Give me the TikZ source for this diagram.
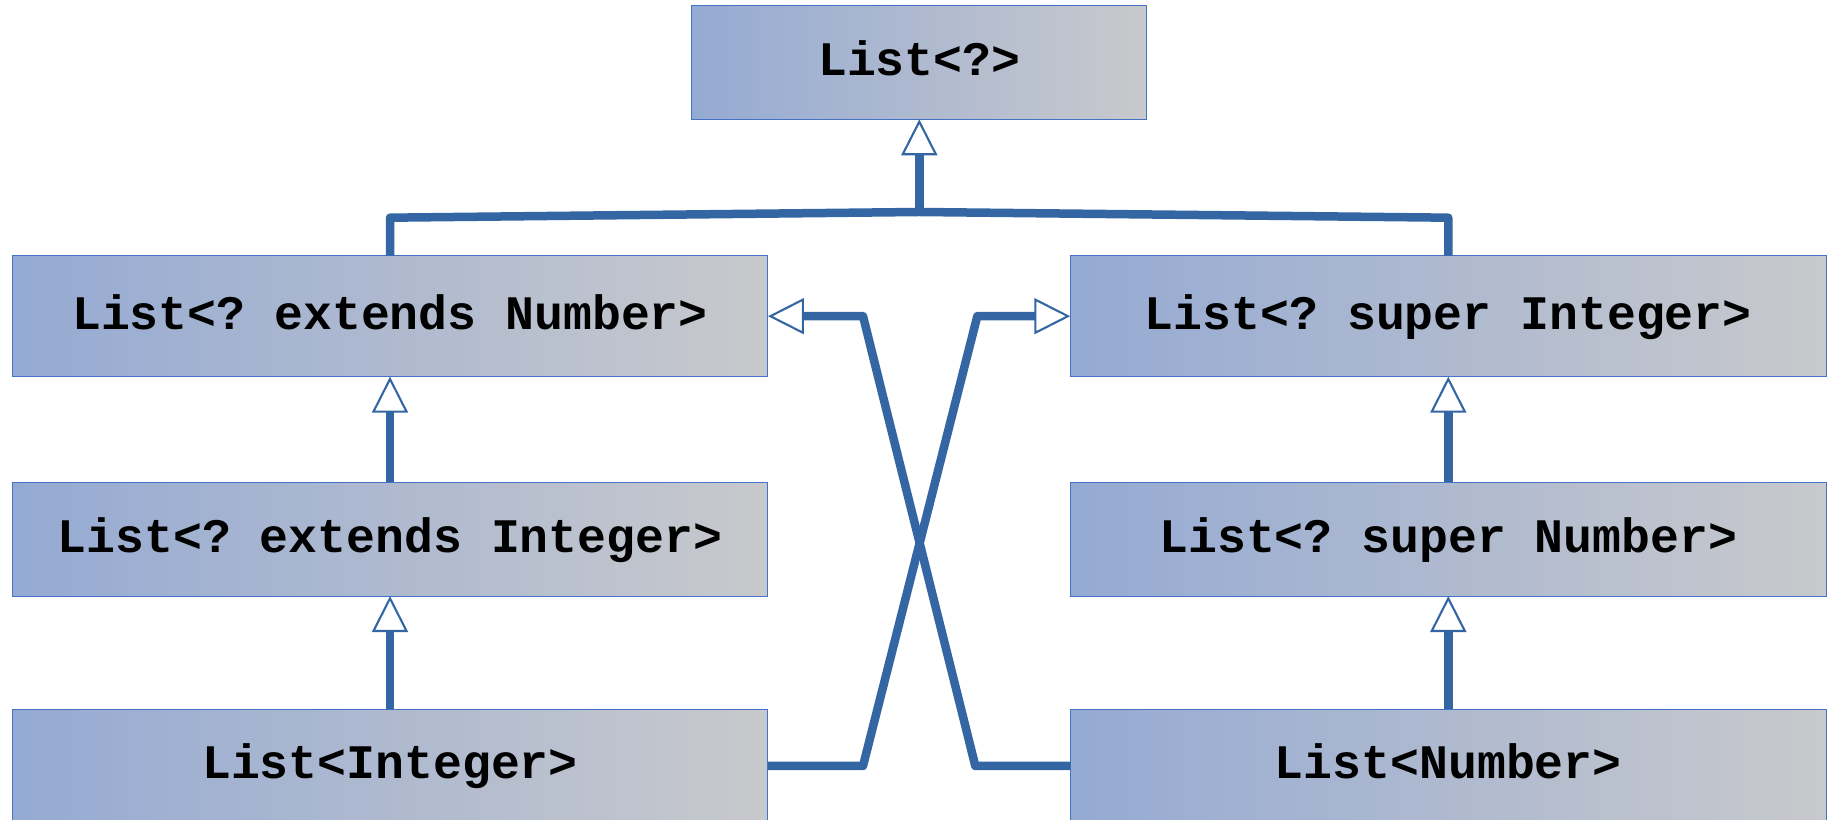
\documentclass[tikz,border=0pt]{standalone}
\usepackage{fontspec}
\setmonofont{Liberation Mono}
\usetikzlibrary{arrows.meta,calc}
\begin{document}
\begin{tikzpicture}[x=0.1mm,y=-0.1mm,
  box/.style={draw=kBorder,line width=0.1mm,left color=kLeft,right color=kRight,
    inner sep=0pt,outer sep=0pt,text height=3.6mm,text depth=1mm,
    font=\fontsize{13.7}{16}\selectfont\ttfamily\bfseries},
  wide/.style={box,minimum width=75.6mm},
  inh/.style={draw=kLine,line width=0.85mm,line join=round,
    -{Triangle[length=3.6mm,width=3.6mm,line width=0.6pt 0,fill=white]}}]
  % colors
  \definecolor{kLeft}{rgb}{0.584,0.667,0.827}
  \definecolor{kRight}{rgb}{0.784,0.788,0.8}
  \definecolor{kBorder}{rgb}{0.267,0.447,0.769}
  \definecolor{kLine}{rgb}{0.204,0.4,0.643}
  \useasboundingbox (0,0) rectangle (1830,820);
  % boxes
  \node[box,minimum width=45.5mm,minimum height=11.36mm] (lst) at (919.3,62.5) {List<?>};
  \node[wide,minimum height=12.1mm] (extNum) at (390,316.2) {List<? extends Number>};
  \node[wide,minimum height=11.37mm] (extInt) at (390,539.2) {List<? extends Integer>};
  \node[wide,minimum height=11.3mm] (lstInt) at (390,766) {List<Integer>};
  \node[wide,minimum height=12.1mm] (supInt) at (1448.3,316.2) {List<? super Integer>};
  \node[wide,minimum height=11.37mm] (supNum) at (1448.3,539.2) {List<? super Number>};
  \node[wide,minimum height=11.3mm] (lstNum) at (1448.3,766) {List<Number>};
  % connectors
  \coordinate (join) at (919.3,212);
  \draw[inh] (join) -- (lst.south);
  \draw[draw=kLine,line width=0.85mm,line join=round] (extNum.north) -- ++(0,-38) -- (join) -- ($(supInt.north)+(0,-38)$) -- (supInt.north);
  \foreach \a/\b in {lstInt/extInt, extInt/extNum, lstNum/supNum, supNum/supInt}
    \draw[inh] (\a.north) -- (\b.south);
  \draw[inh] (lstInt.east) -- ++(95,0) -- ($(supInt.west)+(-93,0)$) -- (supInt.west);
  \draw[inh] (lstNum.west) -- ++(-95,0) -- ($(extNum.east)+(95,0)$) -- (extNum.east);
\end{tikzpicture}
\end{document}
